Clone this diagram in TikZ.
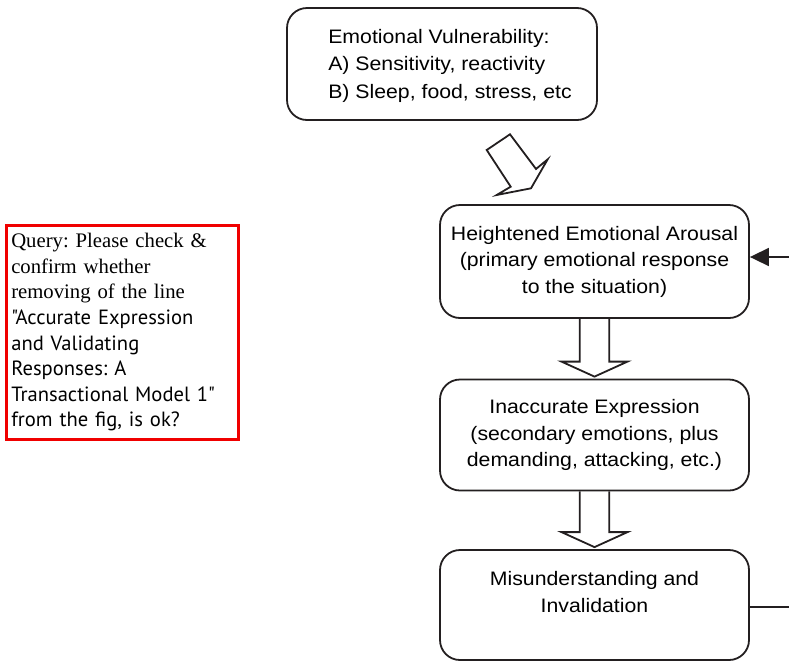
\documentclass[tikz,border=0pt]{standalone}
\usepackage{fontspec}
\setmainfont{Liberation Sans}[FakeStretch=1.09]
\newfontfamily\qryserif{Liberation Serif}
\newfontfamily\qrysans{PT Sans}
\usetikzlibrary{arrows.meta}
\definecolor{ink}{RGB}{35,31,32}
\definecolor{qred}{RGB}{240,0,0}
\frenchspacing

\begin{document}
\begin{tikzpicture}[x=1pt,y=-1pt,font=\fontsize{19.5}{26.5}\selectfont,
  box/.style={draw=ink,line width=1.8pt,rounded corners=20pt,minimum width=309pt,align=center,inner sep=0pt},
  hollow/.style={draw=ink,line width=1.8pt,line join=miter},
  loop/.style={draw=ink,line width=1.7pt},
  query/.style={draw=qred,line width=2.6pt,anchor=north west,minimum width=232pt,minimum height=214pt,text width=222pt,inner xsep=5pt,align=left,font=\fontsize{20.7}{25.6}\selectfont}]
  \useasboundingbox (0,0) rectangle (789,662);
  \node[box,minimum width=310pt,minimum height=112pt] (vuln) at (442,64) {};
  \node[align=left,anchor=west,inner sep=0pt,font=\fontsize{19.5}{27.5}\selectfont] (vulntxt) at ([xshift=42pt,yshift=-1.5pt]vuln.west) {Emotional Vulnerability:\\A) Sensitivity, reactivity\\B) Sleep, food, stress, etc};
  \node[box,minimum height=113pt] (arou) at (594.5,261.5) {Heightened Emotional Arousal\\(primary emotional response\\to the situation)};
  \node[box,minimum height=111pt] (inac) at (594.5,435) {Inaccurate Expression\\(secondary emotions, plus\\demanding, attacking, etc.)};
  \node[box,minimum height=110pt] (misu) at (594.5,605) {Misunderstanding and\\Invalidation\\\mbox{}};
  \node[query] (qry) at (5,224) {\qryserif Query: Please check \&\\confirm whether\\removing of the line\\\qrysans\fontsize{20.6}{25.6}\selectfont "Accurate Expression\\and Validating\\Responses: A\\Transactional Model 1"\\from the fig, is ok?};
  % tilted hollow arrow, vulnerability -> arousal
  \draw[hollow] (486.7,150) -- (510,134.3) -- (536,169) -- (547.7,159.3) -- (531,188.3) -- (496.7,195) -- (510.7,186.7) -- cycle;
  \draw[hollow] ([xshift=-14.7pt]arou.south) -- ([xshift=-14.7pt,yshift=17pt]inac.north) -- ([xshift=-33pt,yshift=17pt]inac.north) -- ([yshift=2pt]inac.north) -- ([xshift=33pt,yshift=17pt]inac.north) -- ([xshift=14.7pt,yshift=17pt]inac.north) -- ([xshift=14.7pt]arou.south);
  \draw[hollow] ([xshift=-14.7pt]inac.south) -- ([xshift=-14.7pt,yshift=17pt]misu.north) -- ([xshift=-33pt,yshift=17pt]misu.north) -- ([yshift=2pt]misu.north) -- ([xshift=33pt,yshift=17pt]misu.north) -- ([xshift=14.7pt,yshift=17pt]misu.north) -- ([xshift=14.7pt]inac.south);
  % feedback line, leaves the page on the right
  \coordinate (fbin) at (789,257);
  \coordinate (fbout) at (789,607);
  \draw[loop,-{Triangle[length=19pt,width=18pt]}] (fbin) -- (arou.east |- fbin);
  \draw[loop] (misu.east |- fbout) -- (fbout);
\end{tikzpicture}
\end{document}
